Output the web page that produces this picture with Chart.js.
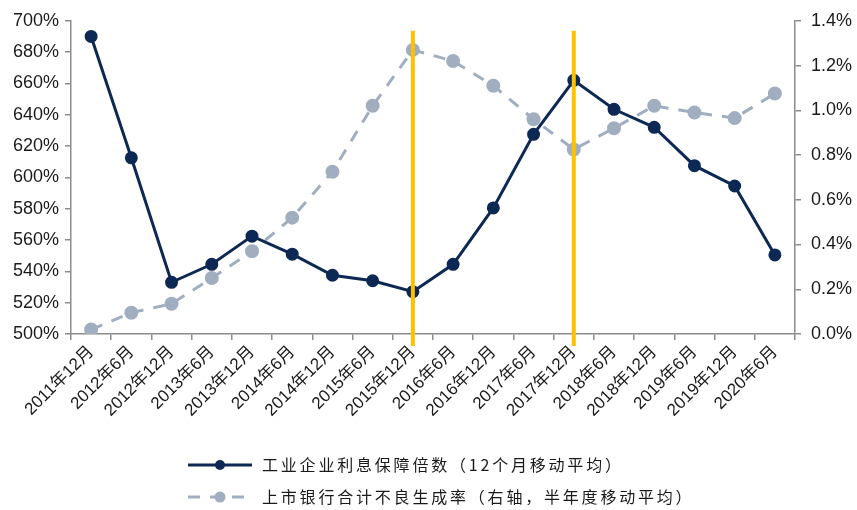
<!DOCTYPE html>
<html>
<head>
<meta charset="utf-8">
<script src="https://cdn.jsdelivr.net/npm/chart.js@4/dist/chart.umd.min.js"></script>
<style>
  body { margin: 0; background: #fff; }
  #chart { display: block; }
</style>
</head>
<body>
<canvas id="chart" width="857" height="510"></canvas>
<script>
// half-year points
var months = ["2011年12月","2012年6月","2012年12月","2013年6月","2013年12月","2014年6月",
  "2014年12月","2015年6月","2015年12月","2016年6月","2016年12月","2017年6月",
  "2017年12月","2018年6月","2018年12月","2019年6月","2019年12月","2020年6月"];
// interest coverage, %
var coverage = [690, 612.5, 533, 544.5, 562.5, 551, 537.5, 534, 527, 544.5, 580.5, 627.5,
  662, 643.5, 632, 607.5, 594.5, 550.5];
// listed banks NPL formation rate, %
var nplRate = [0.02, 0.095, 0.135, 0.25, 0.37, 0.52, 0.725, 1.02, 1.27, 1.22, 1.11, 0.96,
  0.825, 0.92, 1.02, 0.99, 0.965, 1.075];
var markedMonths = ["2015年12月", "2017年12月"];
var seriesNames = ["工业企业利息保障倍数（12个月移动平均）", "上市银行合计不良生成率（右轴，半年度移动平均）"];

var navy = "#0c2853";
var grey = "#a0aebf";
var axisGrey = "#8c8c8c";
var txt = "#1a1a1a";
var latin = "'Liberation Sans', Arial, 'Noto Sans CJK SC', sans-serif";

// yellow markers on top of the lines
var markLines = {
  id: "markLines",
  afterDatasetsDraw: function (chart) {
    var ctx = chart.ctx, x = chart.scales.x;
    ctx.save();
    ctx.strokeStyle = "#ffc000";
    ctx.lineWidth = 4;
    markedMonths.forEach(function (m) {
      var px = x.getPixelForValue(m);
      ctx.beginPath();
      ctx.moveTo(px, chart.chartArea.top + 10);
      ctx.lineTo(px, chart.chartArea.bottom + 12);
      ctx.stroke();
    });
    ctx.restore();
  }
};

// two-row legend, both rows start at the same x
var legendRows = {
  id: "legendRows",
  afterDraw: function (chart) {
    var ctx = chart.ctx;
    var left = 188, textX = 262;
    var rows = [465, 497];
    ctx.save();
    // solid navy
    ctx.strokeStyle = navy; ctx.lineWidth = 3;
    ctx.beginPath(); ctx.moveTo(left, rows[0]); ctx.lineTo(left + 64, rows[0]); ctx.stroke();
    ctx.fillStyle = navy;
    ctx.beginPath(); ctx.arc(left + 32, rows[0], 5, 0, Math.PI * 2); ctx.fill();
    // dashed grey
    ctx.strokeStyle = grey; ctx.setLineDash([12, 10]);
    ctx.beginPath(); ctx.moveTo(left, rows[1]); ctx.lineTo(left + 64, rows[1]); ctx.stroke();
    ctx.setLineDash([]);
    ctx.fillStyle = grey;
    ctx.beginPath(); ctx.arc(left + 32, rows[1], 5.5, 0, Math.PI * 2); ctx.fill();
    // labels
    ctx.fillStyle = txt;
    ctx.font = "16px 'Noto Sans CJK SC', sans-serif";
    ctx.letterSpacing = "2.8px";
    ctx.textBaseline = "middle";
    ctx.textAlign = "left";
    ctx.fillText(seriesNames[0], textX, rows[0]);
    ctx.fillText(seriesNames[1], textX, rows[1]);
    ctx.restore();
  }
};

new Chart(document.getElementById("chart").getContext("2d"), {
  type: "line",
  data: {
    labels: months,
    datasets: [{
      label: seriesNames[0],
      data: coverage,
      yAxisID: "y",
      borderColor: navy,
      backgroundColor: navy,
      borderWidth: 3,
      pointRadius: 5,
      pointHoverRadius: 5,
      tension: 0
    }, {
      label: seriesNames[1],
      data: nplRate,
      yAxisID: "y1",
      borderColor: grey,
      backgroundColor: grey,
      borderWidth: 3,
      borderDash: [12, 10],
      pointRadius: 5.5,
      pointHoverRadius: 5.5,
      tension: 0
    }]
  },
  options: {
    responsive: false,
    devicePixelRatio: 1,
    animation: false,
    layout: { padding: { top: 16, left: 0, right: 0, bottom: 0 } },
    plugins: {
      legend: { display: false },
      tooltip: { enabled: false }
    },
    scales: {
      x: {
        offset: true,
        grid: { offset: true, drawOnChartArea: false, drawTicks: true, tickLength: 6, color: axisGrey, lineWidth: 1.5 },
        border: { color: axisGrey, width: 1.5 },
        ticks: { color: txt, font: { family: latin, size: 17 }, minRotation: 45, maxRotation: 45, autoSkip: false, padding: 2 },
        afterFit: function (s) { s.height = 176; }
      },
      y: {
        position: "left",
        min: 500, max: 700,
        grid: { drawOnChartArea: false, tickLength: 6, color: axisGrey, lineWidth: 1.5 },
        border: { color: axisGrey, width: 1.5 },
        ticks: { stepSize: 20, color: txt, font: { family: latin, size: 18 }, padding: 6,
          callback: function (v) { return v + "%"; } },
        afterFit: function (s) { s.width = 71; }
      },
      y1: {
        position: "right",
        min: 0, max: 1.4,
        grid: { drawOnChartArea: false, tickLength: 6, color: axisGrey, lineWidth: 1.5 },
        border: { color: axisGrey, width: 1.5 },
        ticks: { stepSize: 0.2, color: txt, font: { family: latin, size: 18 }, padding: 10,
          callback: function (v) { return v.toFixed(1) + "%"; } },
        afterFit: function (s) { s.width = 62; }
      }
    }
  },
  plugins: [markLines, legendRows]
});
</script>
</body>
</html>
